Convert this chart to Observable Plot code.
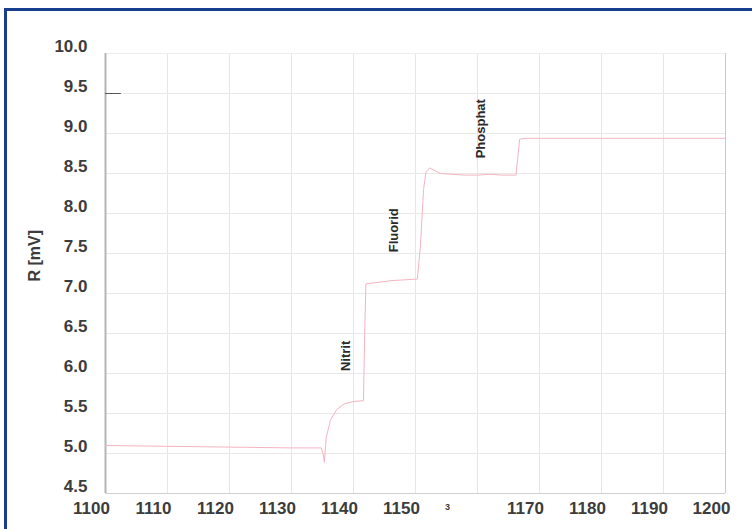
<!DOCTYPE html>
<html>
<head>
<meta charset="utf-8">
<script src="https://cdn.jsdelivr.net/npm/d3@7"></script>
<script src="https://cdn.jsdelivr.net/npm/@observablehq/plot@0.6"></script>
<style>
  html, body { margin: 0; padding: 0; background: #fff; overflow: hidden; }
  #wrap { position: relative; width: 752px; height: 529px; }
  #frame { position: absolute; left: 4px; top: 8px; width: 800px; height: 600px;
           border-left: 3px solid #1a3e8e; border-top: 3px solid #1a3e8e; pointer-events: none; }
</style>
</head>
<body>
<div id="wrap"><div id="chart"></div><div id="frame"></div></div>
<script>
// Measurement trace (time vs. R [mV])
const timeX = [1100, 1110, 1120, 1130, 1134.8, 1135.1, 1135.3, 1135.6, 1136.3, 1137.3, 1138.5, 1140, 1141.6,
  1141.8, 1142.0, 1144, 1146, 1148, 1150.3, 1150.8, 1151.3, 1151.7, 1152.3, 1153, 1154, 1156, 1158,
  1160, 1162, 1164, 1166.2, 1166.5, 1166.8, 1168, 1180, 1200];
const rValues = [5.10, 5.09, 5.08, 5.07, 5.07, 5.0, 4.89, 5.2, 5.42, 5.55, 5.62, 5.65, 5.66,
  6.5, 7.12, 7.14, 7.16, 7.17, 7.18, 7.6, 8.3, 8.52, 8.57, 8.54, 8.50, 8.49, 8.48,
  8.48, 8.49, 8.48, 8.48, 8.7, 8.93, 8.94, 8.94, 8.94];

// Short dark stub near the left axis
const stubX = [1100, 1102.4];
const stubY = [9.5, 9.5];

// Annotations
const annText = ["Nitrit", "Fluorid", "Phosphat"];
const annX = [1138.7, 1146.5, 1160.5];
const annY = [6.22, 7.79, 9.06];

// Ticks
const xTicks = [1100, 1110, 1120, 1130, 1140, 1150, 1160, 1170, 1180, 1190, 1200];
const xTickLabels = ["1100", "1110", "1120", "1130", "1140", "1150", "3", "1170", "1180", "1190", "1200"];
const yTicks = [4.5, 5.0, 5.5, 6.0, 6.5, 7.0, 7.5, 8.0, 8.5, 9.0, 9.5, 10.0];
const yTickLabels = ["4.5", "5.0", "5.5", "6.0", "6.5", "7.0", "7.5", "8.0", "8.5", "9.0", "9.5", "10.0"];
const yTitle = "R [mV]";

const trace = timeX.map((x, i) => ({x, y: rValues[i]}));
const stub = stubX.map((x, i) => ({x, y: stubY[i]}));
const ann = annText.map((t, i) => ({t, x: annX[i], y: annY[i]}));
const xt = xTicks.map((v, i) => ({v, label: xTickLabels[i]}));
const xtMain = xt.filter(d => d.label.length > 1);
const xtSmall = xt.filter(d => d.label.length <= 1);
const yt = yTicks.map((v, i) => ({v, label: yTickLabels[i]}));

const font = "'Liberation Sans', Arial, Helvetica, sans-serif";
const labelColor = "#3c3c3c";

const chart = Plot.plot({
  width: 752,
  height: 529,
  marginLeft: 105,
  marginRight: 27,
  marginTop: 53,
  marginBottom: 36,
  style: {fontFamily: font, background: "transparent", overflow: "visible"},
  x: {domain: [1100, 1200], axis: null},
  y: {domain: [4.5, 10], axis: null},
  marks: [
    // grid
    Plot.ruleX(xTicks.slice(1, -1), {stroke: "#e9e4e6", strokeWidth: 1}),
    Plot.ruleY(yTicks.slice(1, -1), {stroke: "#ebe6e8", strokeWidth: 1}),
    // frame lines
    Plot.ruleY([10], {stroke: "#eeeeee", strokeWidth: 1}),
    Plot.ruleX([1200], {stroke: "#c9c9c9", strokeWidth: 1}),
    Plot.ruleY([4.5], {stroke: "#d0d0d0", strokeWidth: 1}),
    Plot.ruleX([1100], {stroke: "#b5b5b5", strokeWidth: 2}),
    // data
    Plot.line(trace, {x: "x", y: "y", stroke: "#f4b4c2", strokeWidth: 1, curve: "linear"}),
    Plot.line(stub, {x: "x", y: "y", stroke: "#555", strokeWidth: 1}),
    // annotations
    Plot.text(ann, {x: "x", y: "y", text: "t", rotate: -90, fontSize: 13, fontWeight: "bold", fill: "#2a2a2a", textAnchor: "middle"}),
    // y tick labels
    Plot.text(yt, {y: "v", text: "label", frameAnchor: "left", dx: -18, dy: -7, textAnchor: "end", fontSize: 17, fontWeight: "bold", fill: labelColor}),
    // x tick labels
    Plot.text(xtMain, {x: "v", text: "label", frameAnchor: "bottom", dx: -14, dy: 20, fontSize: 17, fontWeight: "bold", fill: labelColor}),
    Plot.text(xtSmall, {x: "v", text: "label", frameAnchor: "bottom", dx: -30, dy: 16, fontSize: 9, fontWeight: "bold", fill: labelColor}),
    // y title
    Plot.text([yTitle], {text: d => d, frameAnchor: "left", dx: -71, dy: 8, rotate: -90, fontSize: 16, fontWeight: "bold", fill: labelColor})
  ]
});
document.getElementById("chart").appendChild(chart);
</script>
</body>
</html>
